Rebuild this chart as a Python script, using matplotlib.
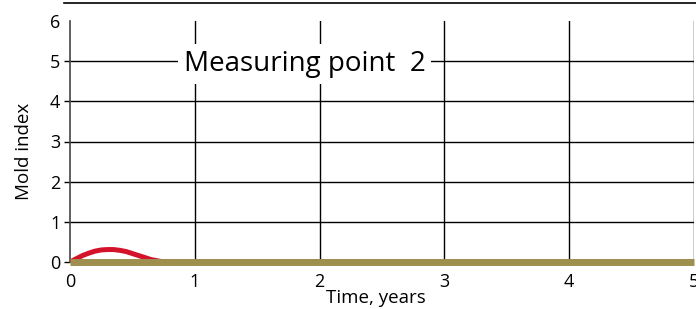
import matplotlib.pyplot as plt
from matplotlib.lines import Line2D

plt.rcParams['font.family'] = ['Open Sans', 'DejaVu Sans']

# data
years = [0, 0.05, 0.1, 0.15, 0.2, 0.25, 0.3, 0.35, 0.4, 0.45, 0.5, 0.55, 0.6, 0.65, 0.7, 0.75, 1, 2, 3, 4, 5]
mold_red = [0, 0.08, 0.16, 0.22, 0.27, 0.3, 0.31, 0.31, 0.29, 0.26, 0.21, 0.16, 0.11, 0.06, 0.03, 0, 0, 0, 0, 0, 0]
mold_olive = [0] * len(years)

xticks = [0, 1, 2, 3, 4, 5]
yticks = [0, 1, 2, 3, 4, 5, 6]
title = 'Measuring point  2'

fig = plt.figure(figsize=(6.96, 3.09), dpi=100)
ax = fig.add_axes([70/696, 47/309, 624/696, 241/309])

# grid lines
for xv in xticks[1:]:
    ax.axvline(xv, color='black', lw=1, zorder=1)
for yv in yticks[1:-1]:
    ax.axhline(yv, color='black', lw=1, zorder=1)

ax.plot(years, mold_red, color='#d4132b', lw=3.6, solid_capstyle='round', zorder=3)
ax.plot(years, mold_olive, color='#9e8f4f', lw=5, solid_capstyle='butt', zorder=4, clip_on=False)

ax.set_xlim(0, 5)
ax.set_ylim(0, 6)
ax.set_xticks(xticks)
ax.set_yticks(yticks)
ax.tick_params(axis='x', length=0, pad=8, labelsize=13)
ax.tick_params(axis='y', length=4, width=1, pad=3, labelsize=13)
ax.yaxis.get_major_ticks()[-1].tick1line.set_visible(False)

for s in ['top', 'right', 'bottom']:
    ax.spines[s].set_visible(False)
ax.spines['left'].set_color('#444444')
ax.spines['left'].set_linewidth(1.2)

ax.set_xlabel('Time, years', fontsize=13.5)
ax.xaxis.set_label_coords(0.49, -0.112)
ax.set_ylabel('Mold index', fontsize=13.5)
ax.yaxis.set_label_coords(-0.06, 0.46)

ax.text(1.88, 4.93, title, fontsize=20, ha='center', va='center', zorder=5,
        bbox=dict(facecolor='white', edgecolor='none', pad=4))

fig.add_artist(Line2D([64/696, 1], [1 - 3/309, 1 - 3/309], color='black', lw=1.2))

fig.savefig('out.png', dpi=100)
